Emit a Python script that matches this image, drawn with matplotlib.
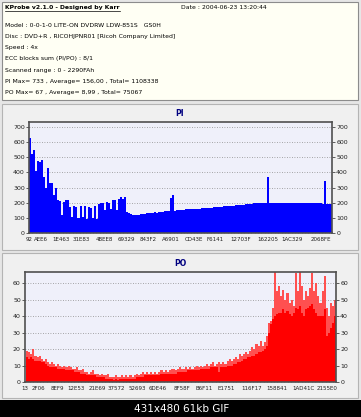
import numpy as np
import matplotlib.pyplot as plt
from matplotlib.patches import Rectangle
from matplotlib.ticker import MultipleLocator

# header text of the KProbe window
title_text = "KProbe v2.1.0 - Designed by Karr"
date_text = "Date : 2004-06-23 13:20:44"
info_lines = [
    "Model : 0-0-1-0 LITE-ON DVDRW LDW-851S   GS0H",
    "Disc : DVD+R , RICOHJPNR01 [Ricoh Company Limited]",
    "Speed : 4x",
    "ECC blocks sum (PI/PO) : 8/1",
    "Scanned range : 0 - 2290FAh",
    "PI Max= 733 , Average= 156,00 , Total= 1108338",
    "PO Max= 67 , Average= 8,99 , Total= 75067",
]

# PI errors, one value per bar (150 bars across the scan)
pi_values = [
    630, 520, 545, 410, 475, 470, 480, 370, 300, 430,
    330, 330, 250, 300, 215, 210, 120, 205, 215, 220,
    170, 105, 175, 170, 100, 180, 105, 175, 95, 170,
    165, 100, 180, 95, 190, 200, 195, 150, 205, 200,
    160, 220, 215, 150, 225, 235, 225, 235, 140, 130,
    125, 122, 118, 120, 122, 126, 127, 128, 131, 130,
    133, 134, 136, 135, 138, 140, 141, 143, 142, 145,
    230, 250, 148, 151, 152, 154, 155, 157, 156, 158,
    159, 158, 160, 161, 160, 162, 164, 163, 166, 167,
    168, 170, 170, 172, 173, 174, 175, 177, 176, 178,
    179, 181, 182, 184, 185, 187, 188, 190, 190, 192,
    193, 195, 195, 197, 198, 199, 200, 199, 370, 201,
    200, 199, 201, 200, 200, 199, 201, 200, 198, 200,
    199, 200, 198, 199, 200, 198, 199, 197, 198, 197,
    196, 197, 195, 196, 195, 194, 345, 192, 190, 192,
]
pi_labels = ["92", "AEE6", "1E463", "31E83", "4BEE8", "69329", "843F2",
             "A6901", "CD43E", "F6141", "12703F", "162205", "1AC329", "2068FE"]

# PO errors: solid body and lighter peaks (150 bars)
po_peak = [
    19, 18, 17, 20, 16, 15, 16, 14, 13, 14,
    12, 11, 12, 11, 10, 11, 10, 9, 10, 9,
    10, 9, 8, 8, 9, 7, 7, 8, 6, 6,
    5, 6, 7, 5, 5, 4, 5, 4, 4, 5,
    3, 3, 3, 4, 3, 3, 4, 3, 4, 3,
    4, 3, 4, 5, 4, 5, 6, 5, 6, 5,
    6, 5, 6, 5, 6, 7, 6, 7, 6, 7,
    8, 8, 7, 8, 9, 8, 8, 9, 8, 9,
    8, 9, 10, 9, 10, 9, 10, 11, 10, 11,
    12, 10, 11, 12, 11, 12, 11, 13, 14, 13,
    14, 15, 14, 17, 16, 17, 18, 17, 19, 21,
    20, 23, 22, 25, 22, 24, 28, 36, 37, 45,
    67, 55, 58, 52, 56, 50, 54, 48, 50, 46,
    66, 55, 67, 58, 50, 55, 52, 57, 66, 55,
    60, 52, 48, 55, 64, 45, 40, 48, 46, 50,
]
po_body = [
    15, 14, 15, 14, 13, 13, 13, 12, 12, 11,
    10, 9, 9, 9, 9, 8, 8, 8, 8, 7,
    7, 7, 7, 6, 6, 6, 5, 5, 5, 4,
    4, 4, 4, 4, 3, 3, 3, 3, 2, 2,
    2, 2, 1, 2, 1, 2, 2, 2, 2, 2,
    2, 2, 2, 3, 3, 3, 3, 4, 4, 4,
    4, 4, 4, 4, 4, 5, 5, 5, 5, 5,
    5, 5, 5, 6, 6, 6, 6, 6, 7, 7,
    7, 7, 7, 7, 8, 8, 8, 8, 8, 9,
    9, 9, 9, 6, 9, 9, 9, 10, 10, 10,
    11, 11, 12, 12, 13, 14, 14, 15, 15, 16,
    16, 17, 18, 18, 19, 20, 22, 30, 35, 38,
    40, 41, 42, 42, 44, 42, 43, 41, 40, 42,
    45, 44, 46, 42, 40, 44, 45, 46, 47, 44,
    42, 40, 40, 40, 44, 28, 30, 33, 36, 40,
]
po_labels = ["13", "2F06", "8EF9", "12E53", "21E69", "37572", "52693", "6DE46",
             "8F58F", "B6F11", "E1751", "116F17", "158841", "1AD41C", "2155E0"]

# label centres as fraction of the axis width
pi_label_pos = [0.0, 0.041, 0.107, 0.174, 0.25, 0.322, 0.395, 0.467,
                0.544, 0.613, 0.697, 0.789, 0.867, 0.965]
po_label_pos = [-0.004, 0.039, 0.099, 0.162, 0.228, 0.292, 0.36, 0.424,
                0.504, 0.574, 0.647, 0.727, 0.808, 0.894, 0.971]

W, H = 361, 417
fig = plt.figure(figsize=(W / 100, H / 100), dpi=100)
fig.patch.set_facecolor('#E6E6E6')

bg = fig.add_axes([0, 0, 1, 1])
bg.set_xlim(0, W)
bg.set_ylim(H, 0)
bg.axis('off')

# panels
bg.add_patch(Rectangle((2, 2), 356, 98, fc='#FFFFF4', ec='#8C8C8C', lw=0.8))
bg.add_patch(Rectangle((2, 104), 356, 146, fc='#F0F0F0', ec='#B4B4B4', lw=0.8))
bg.add_patch(Rectangle((2, 253), 356, 145, fc='#F0F0F0', ec='#B4B4B4', lw=0.8))
bg.add_patch(Rectangle((0, 400), W, 17, fc='black', ec='none'))

bg.text(5, 7, title_text, fontsize=4.4, fontweight='bold', va='center', ha='left')
bg.plot([5, 120], [10.5, 10.5], color='black', lw=0.5)
bg.text(181, 7, date_text, fontsize=4.4, va='center', ha='left')
for k, line in enumerate(info_lines):
    bg.text(5, 25 + k * 11.3, line, fontsize=4.4, va='center', ha='left')

bg.text(180, 113, "PI", fontsize=5.5, fontweight='bold', color='#000080', ha='center', va='center')
bg.text(180, 264, "PO", fontsize=5.5, fontweight='bold', color='#000080', ha='center', va='center')
bg.text(182, 409.5, "431x480 61kb GIF", fontsize=7.5, color='white', ha='center', va='center')


def draw_chart(rect, body, color, ymax, step, labels, label_pos, peak=None, peak_color=None):
    ax = fig.add_axes(rect)
    n = len(body)
    x = np.arange(n)
    if peak is not None:
        ax.bar(x, peak, width=1.0, align='edge', color=peak_color, linewidth=0)
    ax.bar(x, body, width=1.0, align='edge', color=color, linewidth=0, antialiased=False)
    ax.set_xlim(0, n)
    ax.set_ylim(0, ymax)
    ax.set_facecolor('#EFF0FA')
    ax.yaxis.set_major_locator(MultipleLocator(step))
    ax.grid(axis='y', color='#8C8C8C', linestyle=(0, (1, 2)), linewidth=0.6)
    ax.set_axisbelow(True)
    ax.tick_params(axis='y', left=True, right=True, labelleft=True, labelright=True,
                   labelsize=4.5, length=2, width=0.5, pad=1, colors='#202020')
    ax.set_xticks([p * n for p in label_pos])
    ax.set_xticklabels(labels)
    ax.xaxis.set_minor_locator(MultipleLocator(n / 90))
    ax.tick_params(axis='x', which='major', length=0, labelsize=4.0, pad=3, colors='#202020')
    ax.tick_params(axis='x', which='minor', length=1.5, width=0.4, direction='in', color='#505050')
    for s in ax.spines.values():
        s.set_color('#505050')
        s.set_linewidth(1.2)
    return ax


draw_chart([29 / W, 1 - 233 / H, 303 / W, 111 / H], pi_values, '#0000FF', 733, 100,
           pi_labels, pi_label_pos)
draw_chart([25 / W, 1 - 382 / H, 311 / W, 110.5 / H], po_body, '#FF0000', 67, 10,
           po_labels, po_label_pos, peak=po_peak, peak_color='#FF5050')

fig.savefig('out.png', dpi=100, facecolor=fig.get_facecolor())
